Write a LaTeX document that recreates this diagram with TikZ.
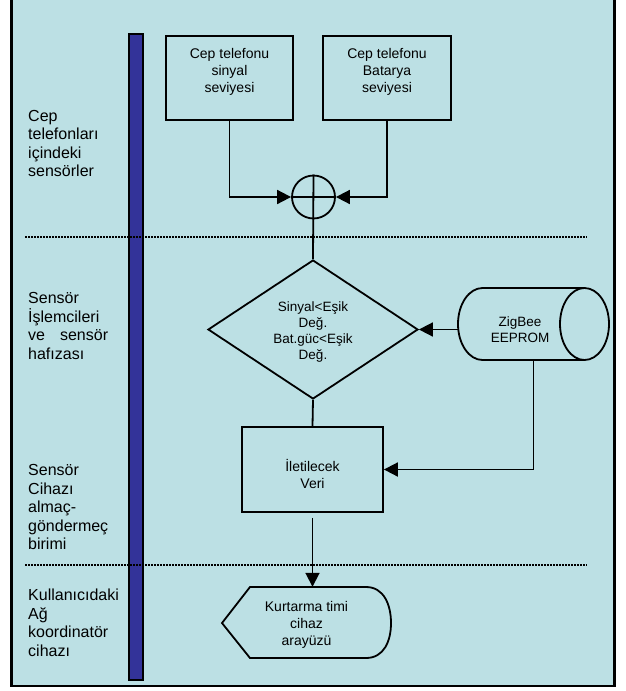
\documentclass[tikz,border=0pt]{standalone}
\usepackage{fontspec}
\setmainfont{Liberation Sans}
\usetikzlibrary{shapes.geometric,arrows.meta}
\definecolor{bgc}{RGB}{188,224,228}
\definecolor{barc}{RGB}{51,51,153}
\begin{document}
\begin{tikzpicture}[x=1pt,y=1pt,
  ln/.style={line width=1.8pt},
  arr/.style={line width=1.8pt,-{Triangle[length=14pt,width=14pt]}},
  boxs/.style={draw,line width=1.8pt,rectangle,inner sep=0pt},
  txtA/.style={align=center,font=\fontsize{14}{17}\selectfont,inner sep=0pt},
  txtB/.style={align=center,font=\fontsize{13.5}{16}\selectfont,inner sep=0pt},
  lefttxt/.style={anchor=west,align=left,font=\fontsize{16}{18.5}\selectfont,inner sep=0pt},
  dots/.style={line width=1.8pt,dash pattern=on 1.5pt off 1.5pt}]
\useasboundingbox (0,0) rectangle (626,-691);
\fill[white] (0,0) rectangle (626,-691);
\fill[bgc] (11.5,0) rectangle (614.5,-686);
\draw[line width=2.5pt] (11.5,0) -- (11.5,-686) -- (614.5,-686) -- (614.5,0);
% lane bar
\draw[fill=barc,line width=2pt] (129,-34) rectangle (143,-680);
% lane separators
\draw[dots] (25,-237) -- (587,-237);
\draw[dots] (25,-565) -- (587,-565);
% lane labels
\node[lefttxt] (l1) at (28,-143.5) {Cep\\telefonları\\içindeki\\sensörler};
\node[lefttxt] (l2) at (28,-326) {Sensör\\İşlemcileri\\ve\hspace{15pt}sensör\\hafızası};
\node[lefttxt] (l3) at (28,-507) {Sensör\\Cihazı\\almaç-\\göndermeç\\birimi};
\node[lefttxt] (l4) at (28,-623) {Kullanıcıdaki\\Ağ\\koordinatör\\cihazı};
% boxes
\node[boxs,minimum width=127pt,minimum height=84pt] (b1) at (229.5,-78) {};
\node[txtA] (b1t) at (229.5,-72) {Cep telefonu\\sinyal\\seviyesi};
\node[boxs,minimum width=128pt,minimum height=84pt] (b2) at (387,-78) {};
\node[txtA] (b2t) at (387,-72) {Cep telefonu\\Batarya\\seviyesi};
\node[draw,circle,line width=1.8pt,minimum size=43pt,inner sep=0pt] (sum) at (313.5,-197) {};
\node[draw,diamond,line width=1.8pt,minimum width=210pt,minimum height=139pt,inner sep=0pt,aspect=1.51] (dia) at (313,-329.5) {};
\node[txtB] (diat) at (313,-332) {Sinyal<Eşik\\Değ.\\Bat.güc<Eşik\\Değ.};
% cylinder
\node[minimum width=151pt,minimum height=72pt,inner sep=0pt] (zig) at (533.5,-324) {};
\draw[ln] (584.5,-288) -- (482.5,-288) arc[start angle=90,end angle=270,x radius=24.5,y radius=36] -- (584.5,-360);
\draw[ln] (584.5,-324) ellipse[x radius=24.5,y radius=36];
\node[txtB] (zigt) at (520,-330) {ZigBee\\EEPROM};
\node[boxs,minimum width=141pt,minimum height=85pt] (b3) at (312.5,-469.5) {};
\node[txtA] (b3t) at (312.5,-473.5) {İletilecek\\Veri};
% display
\node[minimum width=169pt,minimum height=71pt,inner sep=0pt] (disp) at (306.5,-622.5) {};
\draw[ln] (222,-623) -- (250,-587) -- (366,-587) .. controls (384,-587) and (391,-605) .. (391,-623) .. controls (391,-641) and (384,-658) .. (366,-658) -- (250,-658) -- cycle;
\node[txtA] (dispt) at (306.5,-625) {Kurtarma timi\\cihaz\\arayüzü};
% connectors
\draw[arr] (b1.south) |- (sum.west);
\draw[arr] (b2.south) |- (sum.east);
\draw[ln] (sum.north) -- (dia.north);
\draw[ln] (sum.west) -- (sum.east);
\draw[arr] (zig.west |- dia.east) -- (dia.east);
\draw[arr] (zig.south) |- (b3.east);
\draw[ln] (dia.south) -- (b3.north);
\draw[arr] ([yshift=-5pt]b3.south) -- (b3.south |- disp.north);
\end{tikzpicture}
\end{document}
